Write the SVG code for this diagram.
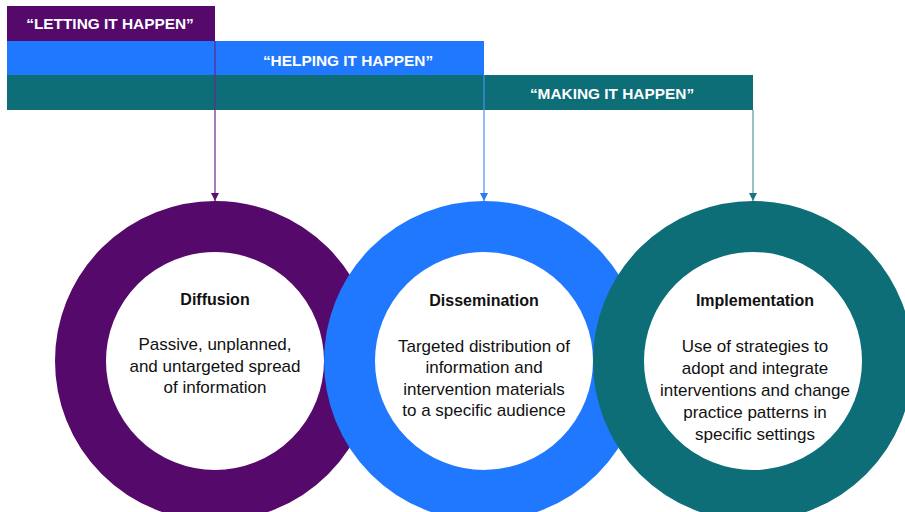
<svg xmlns="http://www.w3.org/2000/svg" width="905" height="512" viewBox="0 0 905 512">
<style>
.bar{font-family:"Liberation Sans",Arial,sans-serif;font-weight:bold;font-size:15.4px;fill:#ffffff;text-anchor:middle}
.ttl{font-family:"Liberation Sans",Arial,sans-serif;font-weight:bold;font-size:16px;fill:#111111;text-anchor:middle}
.body{font-family:"Liberation Sans",Arial,sans-serif;font-size:17px;fill:#111111;text-anchor:middle}
.ring{fill:#ffffff;stroke-width:51}
.conn{fill:none;stroke-width:1.2}
</style>
<defs>
<marker id="mP" markerWidth="8" markerHeight="8" refX="8" refY="4" orient="auto" markerUnits="userSpaceOnUse"><path d="M0,0 L8,4 L0,8 Z" fill="#5a0f72"/></marker>
<marker id="mB" markerWidth="8" markerHeight="8" refX="8" refY="4" orient="auto" markerUnits="userSpaceOnUse"><path d="M0,0 L8,4 L0,8 Z" fill="#2a7bf2"/></marker>
<marker id="mT" markerWidth="8" markerHeight="8" refX="8" refY="4" orient="auto" markerUnits="userSpaceOnUse"><path d="M0,0 L8,4 L0,8 Z" fill="#1a7580"/></marker>
</defs>
<rect width="905" height="512" fill="#ffffff"/>
<g id="bar-letting">
<rect x="7" y="6" width="208" height="35" fill="#550a6b"/>
<text class="bar" x="110" y="29">“LETTING IT HAPPEN”</text>
</g>
<g id="bar-helping">
<rect x="7" y="41" width="477" height="34" fill="#1f78fe"/>
<text class="bar" x="348" y="66">“HELPING IT HAPPEN”</text>
</g>
<g id="bar-making">
<rect x="7" y="75" width="746" height="35" fill="#0d6e78"/>
<text class="bar" x="612" y="99">“MAKING IT HAPPEN”</text>
</g>
<g id="node-diffusion">
<circle class="ring" cx="215" cy="361" r="134.5" stroke="#550a6b"/>
<text class="ttl" x="215" y="305">Diffusion</text>
<text class="body" x="215" y="350">Passive, unplanned,</text>
<text class="body" x="215" y="372">and untargeted spread</text>
<text class="body" x="215" y="393">of information</text>
</g>
<g id="node-dissemination">
<circle class="ring" cx="484" cy="361" r="134.5" stroke="#1f78fe"/>
<text class="ttl" x="484" y="306">Dissemination</text>
<text class="body" x="484" y="352">Targeted distribution of</text>
<text class="body" x="484" y="373">information and</text>
<text class="body" x="484" y="395">intervention materials</text>
<text class="body" x="484" y="416">to a specific audience</text>
</g>
<g id="node-implementation">
<circle class="ring" cx="753" cy="361" r="134.5" stroke="#0d6e78"/>
<text class="ttl" x="755" y="306">Implementation</text>
<text class="body" x="755" y="352">Use of strategies to</text>
<text class="body" x="755" y="374">adopt and integrate</text>
<text class="body" x="755" y="396">interventions and change</text>
<text class="body" x="755" y="418">practice patterns in</text>
<text class="body" x="755" y="440">specific settings</text>
</g>
<g id="connectors">
<line class="conn" x1="215" y1="41" x2="215" y2="201" stroke="#6a2585" marker-end="url(#mP)"/>
<line class="conn" x1="484" y1="75" x2="484" y2="201" stroke="#4b8ff0" marker-end="url(#mB)"/>
<line class="conn" x1="753" y1="110" x2="753" y2="201" stroke="#4f9aa3" marker-end="url(#mT)"/>
</g>
</svg>
